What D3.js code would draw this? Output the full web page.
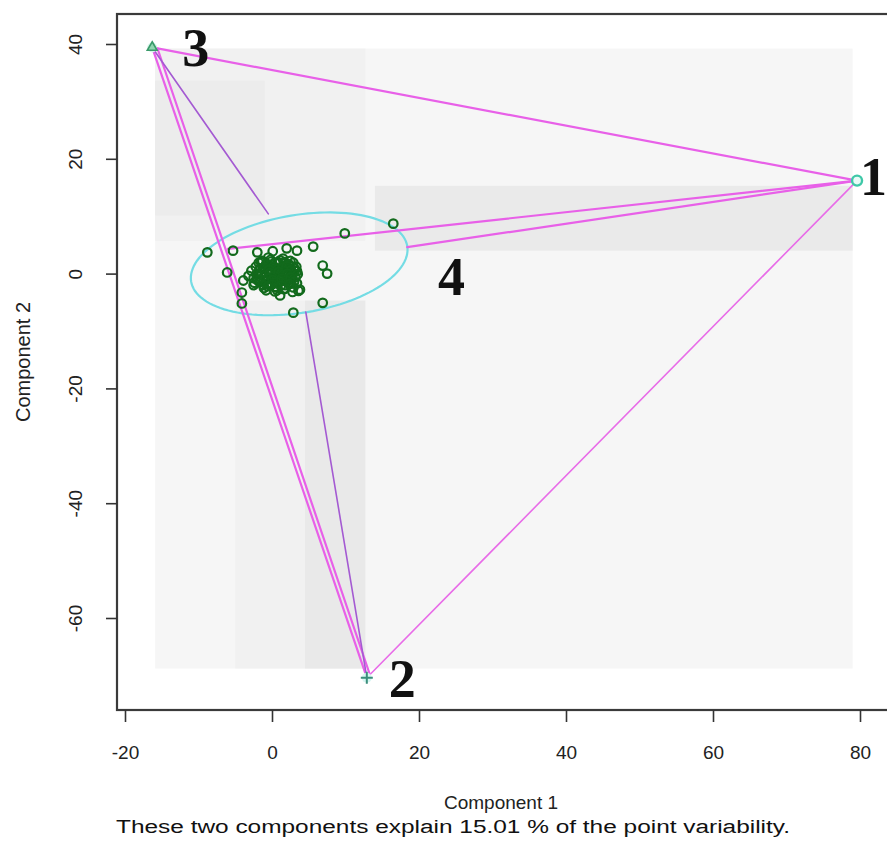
<!DOCTYPE html>
<html>
<head>
<meta charset="utf-8">
<script src="https://cdn.jsdelivr.net/npm/d3@7"></script>
<style>
  html, body { margin: 0; padding: 0; background: #fff; }
  svg { display: block; }
</style>
</head>
<body>
<svg id="chart" width="887" height="843"></svg>
<script>
// Cluster plot on the first two principal components

const xTicks = [-20, 0, 20, 40, 60, 80];
const yTicks = [-60, -40, -20, 0, 20, 40];

// Single-observation clusters (component 1, component 2)
const clusterIds = ["1", "2", "3"];
const clusterX = [79.6, 12.9, -16.3];
const clusterY = [16.2, -70.4, 39.4];
const clusterSymbols = ["circle", "plus", "triangle"];

// Cluster 4 observations
const cluster4X = [
  -8.8, -6.1, -5.3, -3.9, -4.1, -4.1, -2.0, 0.1, 2.0, 3.4, 5.6, 6.9, 7.5, 6.9, 2.9, 1.1, 3.4, 9.9, 16.5, 3.6, -2.5,
  -2.8, -2.5, -2.2, -1.9, -1.7, -1.5, -1.2, -1.0, -0.8, -0.6, -0.4, -0.2, 0.0, 0.2, 0.4, 0.6, 0.8, 1.0, 1.2, 1.4,
  1.6, 1.8, 2.0, 2.2, 2.4, 2.6, 2.8, 3.0, 3.2, -0.3, 0.5, 1.1, -1.4, 0.3, 1.7, -0.9, 2.1, -2.0, 0.9, 1.5, -0.5,
  3.4, 2.9, -1.1, 0.0, 1.9, 3.8, -3.2, 2.5, 0.7,
  -1.8, -1.3, -0.7, -0.1, 0.5, 1.1, 1.7, 2.3, 2.9, 3.3, -1.6, -1.0, -0.4, 0.2, 0.8, 1.4, 2.0, 2.6, 3.1,
  -2.1, -1.5, -0.9, -0.3, 0.3, 0.9, 1.5, 2.1, 2.7, 3.5, -1.7, -1.1, -0.5, 0.1, 0.7, 1.3, 1.9, 2.5, 3.0,
  -1.2, -0.6, 0.0, 0.6, 1.2, 1.8, 2.4, -0.8, 0.4, 1.6, 2.8, -2.4
];
const cluster4Y = [
  3.7, 0.2, 4.0, -1.2, -3.3, -5.2, 3.7, 3.9, 4.4, 4.0, 4.7, 1.4, 0.0, -5.1, -6.8, -3.8, -1.7, 7.0, 8.7, -3.0, -2.0,
  0.5, -0.8, 1.2, 0.0, -1.5, 2.0, 0.8, -0.6, 1.6, -1.8, 0.3, 2.4, -0.9, 1.1, -2.3, 0.0, 2.0, -1.2, 0.7, -0.3,
  1.8, -2.0, 0.4, -0.9, 1.3, -1.6, 0.1, 1.0, -0.6, -0.2, 0.6, 0.2, -0.2, -1.4, 0.9, 1.0, -0.2, -1.1, -0.5, 2.6, 2.8,
  0.4, -2.4, -2.5, 1.6, 1.4, -2.8, -0.4, 2.2, -2.9,
  1.9, 2.2, 1.7, 2.1, 1.8, 2.3, 2.0, 1.6, 1.9, 1.2, 0.9, 1.1, 0.7, 1.2, 0.8, 1.0, 1.3, 0.6, 0.5,
  -0.1, 0.2, -0.3, 0.1, -0.4, 0.3, -0.2, 0.0, -0.5, -0.1, -1.0, -1.3, -0.8, -1.1, -1.5, -0.9, -1.2, -0.7, -1.4,
  -2.0, -2.2, -1.9, -2.4, -2.1, -2.6, -1.8, -2.9, -3.1, -2.7, -3.2, -1.6
];

// Spanning ellipse of cluster 4: centre and two semi-axis vectors
const ellipseCenter = [3.7, 1.7];
const ellipseAxisA = [14.7, 3.1];
const ellipseAxisB = [1.1, -8.4];

// Segments joining the clusters
const segFromX = [-16.3, -16.3, -15.6, -16.3, 79.6, 79.6, 79.6, 4.6];
const segFromY = [39.4, 39.4, 39.3, 39.4, 16.2, 16.2, 16.2, -6.7];
const segToX   = [79.6, 12.9, 13.3, -0.5, -6.0, 18.4, 12.9, 12.9];
const segToY   = [16.2, -70.4, -69.8, 10.4, 4.3, 4.6, -70.4, -70.4];
const segKind  = ["main", "main", "main", "thin", "main", "main", "light", "thin"];

// Shaded density regions (component units) and their grey level
const shadeX0 = [-15.9, -15.9, -15.9, 14.0, -5.0, 4.5];
const shadeX1 = [79.0, 12.7, -1.0, 79.0, 12.7, 12.7];
const shadeY0 = [-68.8, 5.7, 10.1, 4.0, -68.8, -68.8];
const shadeY1 = [39.2, 39.2, 33.6, 15.3, -4.7, -4.7];
const shadeGrey = [246, 241, 236, 234, 241, 233];

// Cluster labels and where they sit
const labelText = ["1", "2", "3", "4"];
const labelX = [80.0, 15.9, -12.2, 22.6];
const labelY = [13.7, -73.7, 36.2, -3.7];

const subtitle = "These two components explain 15.01 % of the point variability.";

const svg = d3.select("#chart");

const x = d3.scaleLinear().domain([-20, 80]).range([125, 860]);
const y = d3.scaleLinear().domain([-60, 40]).range([618, 44]);

const box = { left: 117, top: 14, right: 890, bottom: 710 };

// clip to the plotting region
svg.append("defs").append("clipPath").attr("id", "plotclip")
  .append("rect")
  .attr("x", box.left).attr("y", box.top)
  .attr("width", box.right - box.left).attr("height", box.bottom - box.top);

const plot = svg.append("g").attr("clip-path", "url(#plotclip)");

// shading
plot.selectAll("rect.shade")
  .data(shadeGrey.map((g, i) => ({ x0: shadeX0[i], x1: shadeX1[i], y0: shadeY0[i], y1: shadeY1[i], g })))
  .join("rect")
  .attr("class", "shade")
  .attr("x", d => x(d.x0))
  .attr("y", d => y(d.y1))
  .attr("width", d => x(d.x1) - x(d.x0))
  .attr("height", d => y(d.y0) - y(d.y1))
  .attr("fill", d => d3.rgb(d.g, d.g, d.g));

// ellipse of cluster 4
const ellipsePts = d3.range(0, 361, 3).map(deg => {
  const t = deg * Math.PI / 180;
  return [
    ellipseCenter[0] + ellipseAxisA[0] * Math.cos(t) + ellipseAxisB[0] * Math.sin(t),
    ellipseCenter[1] + ellipseAxisA[1] * Math.cos(t) + ellipseAxisB[1] * Math.sin(t)
  ];
});
plot.append("path")
  .attr("d", d3.line().x(d => x(d[0])).y(d => y(d[1])).curve(d3.curveLinearClosed)(ellipsePts))
  .attr("fill", "none")
  .attr("stroke", "#74dce4")
  .attr("stroke-width", 2.2);

// connecting segments
const segColor = { main: "#e860e8", thin: "#a45ad2", light: "#e86ce8" };
const segWidth = { main: 2.2, thin: 1.6, light: 1.6 };
plot.selectAll("line.seg")
  .data(segKind.map((k, i) => ({ x1: segFromX[i], y1: segFromY[i], x2: segToX[i], y2: segToY[i], k })))
  .join("line")
  .attr("class", "seg")
  .attr("x1", d => x(d.x1)).attr("y1", d => y(d.y1))
  .attr("x2", d => x(d.x2)).attr("y2", d => y(d.y2))
  .attr("stroke", d => segColor[d.k])
  .attr("stroke-width", d => segWidth[d.k])
  .attr("stroke-linecap", "round");

// cluster 4 points
plot.selectAll("circle.pt")
  .data(cluster4X.map((v, i) => [v, cluster4Y[i]]))
  .join("circle")
  .attr("class", "pt")
  .attr("cx", d => x(d[0])).attr("cy", d => y(d[1]))
  .attr("r", 4.3)
  .attr("fill", "none")
  .attr("stroke", "#126a1c")
  .attr("stroke-width", 2.2);

// single-observation clusters
const single = plot.selectAll("g.single")
  .data(clusterIds.map((id, i) => ({ id, cx: clusterX[i], cy: clusterY[i], s: clusterSymbols[i] })))
  .join("g")
  .attr("class", "single")
  .attr("transform", d => `translate(${x(d.cx)},${y(d.cy)})`);

single.each(function (d) {
  const g = d3.select(this);
  if (d.s === "circle") {
    g.append("circle").attr("r", 5).attr("fill", "#e8fbf6").attr("stroke", "#3fc8a8").attr("stroke-width", 2.4);
  } else if (d.s === "plus") {
    g.append("circle").attr("r", 5).attr("fill", "#d8f6f2").attr("stroke", "none");
    g.append("path").attr("d", "M-6,0H6M0,-6V6").attr("stroke", "#3b8f7c").attr("stroke-width", 2);
  } else {
    g.append("circle").attr("r", 5).attr("fill", "#d8f6ec").attr("stroke", "none");
    g.append("path").attr("d", d3.symbol(d3.symbolTriangle, 42)())
      .attr("fill", "#8fd8b0").attr("stroke", "#3a9a6a").attr("stroke-width", 1.6);
  }
});

// cluster labels
svg.selectAll("text.clab")
  .data(labelText.map((t, i) => ({ t, lx: labelX[i], ly: labelY[i] })))
  .join("text")
  .attr("class", "clab")
  .attr("x", d => x(d.lx)).attr("y", d => y(d.ly))
  .attr("font-family", "'Liberation Serif', 'DejaVu Serif', serif")
  .attr("font-weight", "bold")
  .attr("font-size", 54)
  .attr("fill", "#111")
  .text(d => d.t);

// frame
svg.append("rect")
  .attr("x", box.left).attr("y", box.top)
  .attr("width", box.right - box.left).attr("height", box.bottom - box.top)
  .attr("fill", "none").attr("stroke", "#3a3a3a").attr("stroke-width", 2.2);

// axes
const fontAxis = "'Liberation Sans', Arial, sans-serif";

const xAxis = svg.append("g")
  .attr("transform", `translate(0,${box.bottom})`)
  .call(d3.axisBottom(x).tickValues(xTicks).tickSize(12).tickFormat(d3.format("d")));
xAxis.select(".domain").remove();
xAxis.selectAll(".tick line").attr("stroke", "#333").attr("stroke-width", 1.6);
xAxis.selectAll(".tick text")
  .attr("y", 49).attr("dy", 0)
  .attr("font-family", fontAxis).attr("font-size", 19).attr("fill", "#222")
  .text(d => d < 0 ? "-" + Math.abs(d) : d);

const yAxis = svg.append("g")
  .attr("transform", `translate(${box.left},0)`)
  .call(d3.axisLeft(y).tickValues(yTicks).tickSize(11).tickFormat(d3.format("d")));
yAxis.select(".domain").remove();
yAxis.selectAll(".tick line").attr("stroke", "#333").attr("stroke-width", 1.6);
yAxis.selectAll(".tick text")
  .attr("x", 0).attr("y", -35).attr("dy", 0)
  .attr("transform", "rotate(-90)")
  .attr("text-anchor", "middle")
  .attr("font-family", fontAxis).attr("font-size", 19).attr("fill", "#222")
  .text(d => d < 0 ? "-" + Math.abs(d) : d);

// axis titles
svg.append("text")
  .attr("x", 501).attr("y", 809)
  .attr("text-anchor", "middle")
  .attr("font-family", fontAxis).attr("font-size", 19).attr("fill", "#222")
  .text("Component 1");

svg.append("text")
  .attr("transform", `translate(30,${(box.top + box.bottom) / 2}) rotate(-90)`)
  .attr("text-anchor", "middle")
  .attr("font-family", fontAxis).attr("font-size", 20).attr("fill", "#222")
  .text("Component 2");

svg.append("text")
  .attr("x", 116).attr("y", 833)
  .attr("font-family", fontAxis).attr("font-size", 18).attr("fill", "#111")
  .attr("textLength", 674).attr("lengthAdjust", "spacingAndGlyphs")
  .text(subtitle);
</script>
</body>
</html>
